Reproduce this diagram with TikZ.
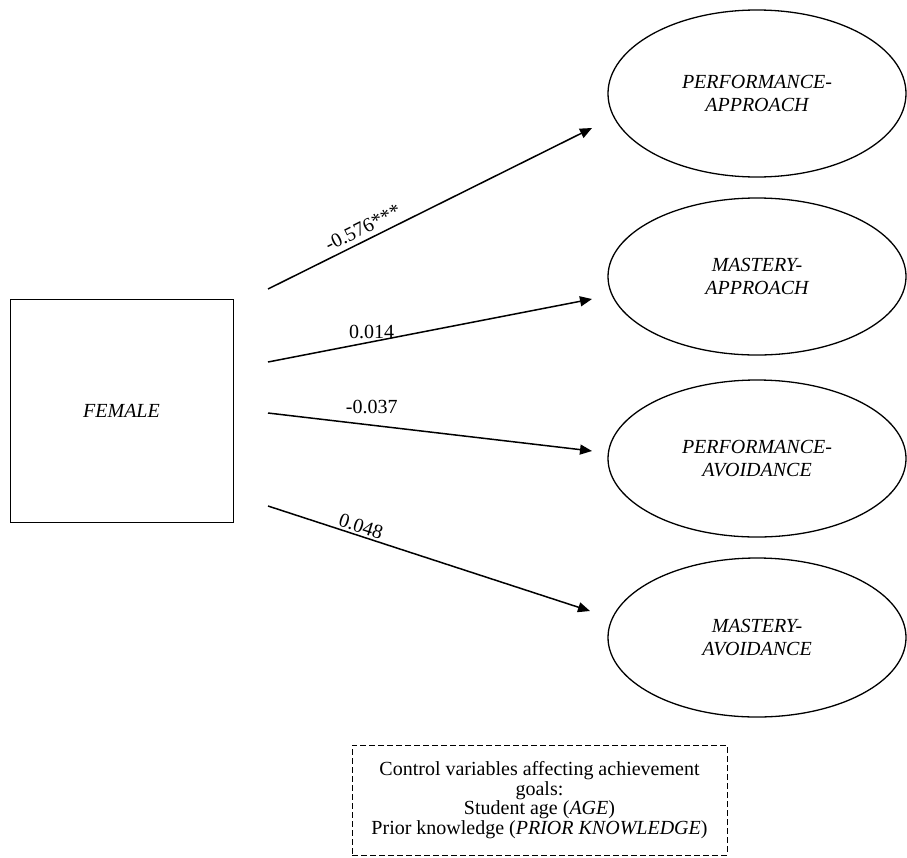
\documentclass[tikz,border=0pt]{standalone}
\usepackage{fontspec}
\setmainfont{Liberation Serif}
\usepackage{tikz}
\usetikzlibrary{arrows.meta}
\usetikzlibrary{shapes.geometric}

\tikzset{
    goal/.style={draw, ellipse, line width=1.3pt, align=center, font=\fontsize{20}{23}\selectfont\itshape},
    path/.style={-{Triangle[length=12pt,width=10pt]}, line width=1.5pt},
    coef/.style={font=\fontsize{20}{22}\selectfont, inner sep=2pt}
}

\begin{document}
\begin{tikzpicture}[x=1pt, y=-1pt, font=\fontsize{20}{19.5}\selectfont]
    \useasboundingbox (0,0) rectangle (907,857);

    \node[draw, line width=0.6pt, minimum width=223, minimum height=223, font=\fontsize{20}{23}\selectfont\itshape] (female) at (121.5,410.5) {FEMALE};

    \node[goal, minimum width=298, minimum height=167] (perfapp) at (757,93.5) {PERFORMANCE-\\APPROACH};
    \node[goal, minimum width=298, minimum height=157] (mastapp) at (757,276.5) {MASTERY-\\APPROACH};
    \node[goal, minimum width=298, minimum height=157] (perfavoid) at (757,458.5) {PERFORMANCE-\\AVOIDANCE};
    \node[goal, minimum width=298, minimum height=159] (mastavoid) at (757,637.5) {MASTERY-\\AVOIDANCE};

    % free ends of the paths
    \coordinate (s1) at (268,289);
    \coordinate (s2) at (268,362);
    \coordinate (s3) at (268,413);
    \coordinate (s4) at (268,506);
    \coordinate (t1) at (592,128);
    \coordinate (t2) at (592,299);
    \coordinate (t3) at (592,451);
    \coordinate (t4) at (590,611);

    \draw[path] (s1) -- (t1) node[coef, pos=0.31, above=3pt, sloped] {-0.576***};
    \draw[path] (s2) -- (t2) node[coef, pos=0.32, above] {0.014};
    \draw[path] (s3) -- (t3) node[coef, pos=0.32, above=9pt] {-0.037};
    \draw[path] (s4) -- (t4) node[coef, pos=0.28, above, sloped] {0.048};

    \node[draw, line width=1pt, dash pattern=on 6pt off 3pt, minimum width=375, minimum height=110, align=center] (controls) at (539.5,800)
        {Control variables affecting achievement\\goals:\\Student age (\textit{AGE})\\Prior knowledge (\textit{PRIOR KNOWLEDGE})};
\end{tikzpicture}
\end{document}
